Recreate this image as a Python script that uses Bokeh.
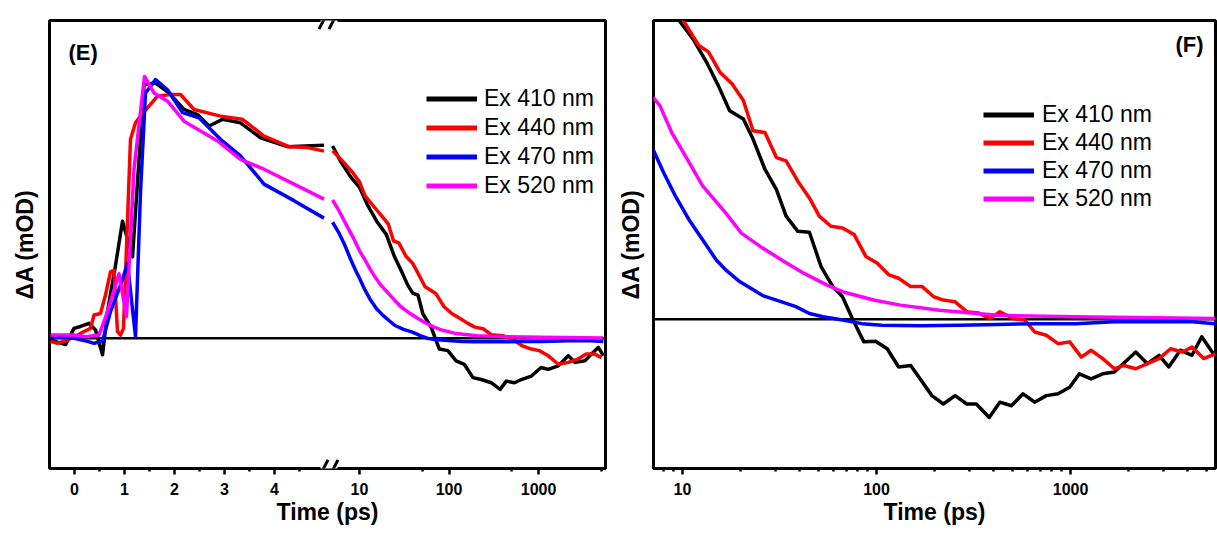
import math
from bokeh.plotting import figure
from bokeh.layouts import row
from bokeh.models import (Range1d, FixedTicker, Span, Legend, LegendItem, Label, LogScale, Arrow)
from bokeh.embed import file_html
from bokeh.resources import INLINE

# ---------------- data ----------------
SERIES = ["Ex 410 nm", "Ex 440 nm", "Ex 470 nm", "Ex 520 nm"]
COLORS = ["#000000", "#ff0000", "#0000ff", "#ff00ff"]

# Panel (E): linear segment (t <= 5 ps)
E_LIN_T_410 = [-0.48, -0.18, -0.01, 0.12, 0.29, 0.42, 0.56, 0.66, 0.82, 0.96, 1.16, 1.39, 1.62, 1.89, 2.19, 2.46, 2.69, 2.96, 3.32, 3.72, 4.26, 4.99]
E_LIN_410 = [-0.05, -0.2, 0.31, 0.37, 0.47, 0.26, -0.52, 0.84, 2.29, 3.68, 2.56, 7.98, 8.03, 7.72, 7.2, 7.04, 6.68, 6.89, 6.78, 6.31, 6.03, 6.07]
E_LIN_T_440 = [-0.48, -0.34, -0.14, 0.06, 0.19, 0.32, 0.39, 0.52, 0.62, 0.72, 0.79, 0.86, 0.92, 0.98, 1.12, 1.22, 1.32, 1.66, 1.92, 2.12, 2.39, 2.92, 3.36, 3.79, 4.29, 4.66, 4.99]
E_LIN_440 = [-0.1, -0.16, -0.05, 0.1, 0.21, 0.31, 0.73, 0.78, 1.36, 2.09, 2.14, 0.21, 0.1, 0.31, 6.26, 6.78, 6.99, 7.62, 7.67, 7.67, 7.2, 6.99, 6.89, 6.36, 6.03, 6.0, 5.89]
E_LIN_T_470 = [-0.48, -0.01, 0.26, 0.39, 0.56, 0.72, 0.92, 1.06, 1.22, 1.32, 1.42, 1.62, 1.86, 2.16, 2.49, 2.92, 3.32, 3.79, 4.39, 4.99]
E_LIN_470 = [0.05, 0.0, -0.1, -0.16, -0.1, 0.84, 1.67, 2.35, 0.05, 4.59, 7.72, 8.14, 7.82, 7.1, 6.94, 6.26, 5.74, 4.85, 4.33, 3.78]
E_LIN_T_520 = [-0.48, -0.01, 0.22, 0.49, 0.66, 0.89, 1.04, 1.19, 1.40, 1.59, 1.86, 2.19, 2.86, 3.32, 3.79, 4.39, 4.99]
E_LIN_520 = [0.1, 0.1, 0.05, 0.1, 0.84, 2.03, 0.68, 5.32, 8.24, 7.72, 7.46, 6.83, 6.21, 5.63, 5.32, 4.85, 4.38]

# Panel (E): log segment (t >= 5 ps)
E_LOG_T_410 = [5.0, 6.2, 8.0, 10, 12.4, 15.9, 19.9, 24.5, 29, 34.5, 39.5, 45, 51, 63, 78, 97, 120, 148, 185, 229, 296, 372, 436, 540, 643, 832, 1070, 1280, 1660, 2150, 2560, 3300, 3900, 4650, 5300]
E_LOG_410 = [6.05, 5.55, 5.07, 4.75, 4.17, 3.64, 3.27, 2.58, 2.15, 1.68, 1.41, 1.36, 0.77, 0.35, -0.34, -0.39, -0.71, -0.82, -1.24, -1.30, -1.40, -1.61, -1.35, -1.40, -1.30, -1.19, -0.92, -0.98, -0.87, -0.55, -0.76, -0.71, -0.5, -0.29, -0.55]
E_LOG_T_440 = [5.0, 6.6, 8.3, 10, 11.5, 14.2, 17.7, 21, 24, 27.5, 33, 39, 45, 54, 63, 71, 88, 108, 133, 164, 194, 240, 296, 400, 540, 650, 830, 1020, 1280, 1660, 2150, 2740, 3400, 4250, 5050]
E_LOG_440 = [5.9, 5.55, 5.23, 4.92, 4.49, 4.17, 3.85, 3.59, 3.06, 3.0, 2.58, 2.37, 2.05, 1.62, 1.50, 1.41, 0.99, 0.77, 0.62, 0.46, 0.35, 0.30, 0.11, 0.08, -0.07, -0.23, -0.34, -0.39, -0.55, -0.82, -0.76, -0.66, -0.50, -0.50, -0.61]
E_LOG_T_470 = [5.0, 5.8, 6.8, 8, 9, 10, 11.5, 13.3, 15.5, 18.3, 21.5, 25, 31, 39, 47, 57, 70, 97, 140, 190, 300, 450, 700, 1070, 1700, 2560, 3800, 5300]
E_LOG_470 = [3.65, 3.35, 2.95, 2.47, 2.15, 1.89, 1.52, 1.20, 0.93, 0.72, 0.55, 0.40, 0.28, 0.19, 0.09, 0.0, -0.04, -0.07, -0.1, -0.11, -0.11, -0.11, -0.1, -0.1, -0.09, -0.07, -0.08, -0.1]
E_LOG_T_520 = [5.0, 5.8, 6.6, 7.5, 8.7, 10, 11.5, 13, 14.8, 17, 21, 25, 29, 35, 45, 55, 68, 85, 115, 150, 205, 300, 450, 700, 1070, 2000, 5300]
E_LOG_520 = [4.35, 4.05, 3.75, 3.45, 3.11, 2.75, 2.47, 2.2, 1.94, 1.7, 1.41, 1.18, 0.99, 0.82, 0.62, 0.48, 0.35, 0.25, 0.16, 0.12, 0.08, 0.06, 0.05, 0.04, 0.03, 0.02, 0.01]

# Panel (F)
F_T_410 = [7.1, 9.6, 11.3, 13.3, 15.3, 17.5, 20.6, 23.1, 26.6, 30.5, 34.2, 39.3, 45.1, 51.8, 59.5, 66.8, 75, 86.1, 98.9, 113.5, 130, 150, 168, 193, 221, 254, 292, 327, 381, 432, 496, 569, 653, 750, 862, 990, 1110, 1276, 1465, 1682, 2168, 2489, 2858, 3207, 3681, 4227, 4743, 5445]
F_410 = [11.1, 10.0, 9.39, 8.61, 7.82, 6.98, 6.70, 6.03, 5.02, 4.34, 3.45, 2.94, 2.91, 1.76, 1.09, 0.75, 0.02, -0.76, -0.74, -0.99, -1.60, -1.55, -2.0, -2.56, -2.84, -2.56, -2.84, -2.84, -3.29, -2.78, -2.90, -2.50, -2.78, -2.56, -2.50, -2.28, -1.83, -2.0, -1.83, -1.77, -1.10, -1.49, -1.21, -1.60, -1.04, -1.21, -0.59, -1.16]
F_T_440 = [7.1, 10.1, 12.1, 13.6, 15.6, 18.0, 20.6, 23.1, 26.6, 30.5, 34.2, 39.3, 45.1, 50.7, 58.2, 66.8, 76.7, 88.1, 101, 116, 130, 150, 172, 197, 221, 254, 292, 335, 385, 432, 507, 582, 653, 750, 862, 990, 1137, 1276, 1465, 1682, 1888, 2168, 2489, 2858, 3281, 3767, 4227, 4853, 5572]
F_440 = [11.6, 10.0, 9.17, 8.95, 8.27, 7.88, 7.32, 6.31, 6.25, 5.41, 5.30, 4.62, 4.06, 3.45, 3.11, 3.05, 2.83, 2.10, 1.87, 1.48, 1.37, 1.09, 1.09, 0.75, 0.64, 0.58, 0.25, 0.21, 0.02, 0.25, 0.02, -0.03, -0.43, -0.54, -0.82, -0.76, -1.27, -1.04, -1.32, -1.66, -1.55, -1.66, -1.49, -1.32, -0.99, -1.10, -0.93, -1.32, -1.16]
F_T_470 = [7.05, 8.0, 9.2, 10.8, 12.7, 14.9, 16.7, 19.7, 22.6, 25.9, 30.5, 38.4, 45.1, 53, 66.8, 84, 106, 168, 266, 422, 668, 1061, 1682, 2667, 4227, 5572]
F_470 = [5.69, 4.90, 4.12, 3.33, 2.66, 1.99, 1.65, 1.26, 1.03, 0.79, 0.64, 0.42, 0.19, 0.08, -0.03, -0.15, -0.2, -0.22, -0.2, -0.18, -0.15, -0.15, -0.09, -0.09, -0.09, -0.15]
F_T_520 = [7.05, 7.65, 8.8, 10.6, 12.7, 16.7, 20.1, 25.9, 33.4, 42.1, 55.6, 66.8, 96.6, 133, 211, 422, 1061, 5572]
F_520 = [7.43, 7.15, 6.25, 5.35, 4.46, 3.56, 2.88, 2.38, 1.93, 1.54, 1.14, 0.92, 0.64, 0.47, 0.30, 0.13, 0.08, 0.02]

E_LIN_TICKS = [0, 1, 2, 3, 4]
E_LIN_MINOR = [0.5, 1.5, 2.5, 3.5, 4.5]
E_LOG_TICKS = [10, 100, 1000]
E_LOG_MINOR = [50, 500, 5000]
F_TICKS = [10, 100, 1000]
F_MINOR = [7, 8, 9, 20, 30, 40, 50, 60, 70, 80, 90, 200, 300, 400, 500, 600, 700, 800, 900, 2000, 3000, 4000, 5000]

# ---------------- styling ----------------
FONT = "Liberation Sans"
H = 533
LW = 3.5

E_XLIN = (-0.5, 10.62)      # linear scale for the short-time segment
E_XLOG = (0.003443, 5598)   # log scale for the long-time segment
E_Y = (-4.1, 10)
E_BREAK = 5.08
F_X = (7.09, 5585)
F_Y = (-5, 10)


def lin_pos(t):
    """Position on the linear x scale of (E) that the log scale maps t to."""
    a, b = math.log10(E_XLOG[0]), math.log10(E_XLOG[1])
    return E_XLIN[0] + (math.log10(t) - a) / (b - a) * (E_XLIN[1] - E_XLIN[0])


def base_style(p):
    p.outline_line_color = "black"
    p.outline_line_width = 3
    p.outline_line_alpha = 1
    p.xgrid.visible = False
    p.ygrid.visible = False
    p.background_fill_color = "white"
    p.border_fill_color = "white"


def style_x(ax, ticks, minor, overrides):
    ax.ticker = FixedTicker(ticks=ticks, minor_ticks=minor)
    ax.major_label_overrides = overrides
    ax.axis_line_color = None
    ax.major_tick_line_color = "black"
    ax.minor_tick_line_color = "black"
    ax.major_tick_line_width = 2.5
    ax.minor_tick_line_width = 2.5
    ax.major_tick_out = 6
    ax.major_tick_in = 0
    ax.minor_tick_out = 3
    ax.minor_tick_in = 0
    ax.major_label_text_font = FONT
    ax.major_label_text_font_style = "bold"
    ax.major_label_text_font_size = "16px"
    ax.major_label_text_color = "black"
    ax.major_label_standoff = 8
    ax.axis_label = "Time (ps)"
    ax.axis_label_text_font = FONT
    ax.axis_label_text_font_style = "bold"
    ax.axis_label_text_font_size = "23px"
    ax.axis_label_text_color = "black"
    ax.axis_label_standoff = 1


def style_y(ax, standoff):
    ax.ticker = FixedTicker(ticks=[])
    ax.axis_line_color = None
    ax.major_tick_out = 0
    ax.major_tick_in = 0
    ax.minor_tick_out = 0
    ax.minor_tick_in = 0
    ax.major_label_standoff = 0
    ax.axis_label = "ΔA (mOD)"
    ax.axis_label_text_font = FONT
    ax.axis_label_text_font_style = "bold"
    ax.axis_label_text_font_size = "23px"
    ax.axis_label_text_color = "black"
    ax.axis_label_standoff = standoff


def make_legend(p, loc, standoff, spacing):
    items = []
    for name, col in zip(SERIES, COLORS):
        r = p.line([float("nan")], [float("nan")], color=col, line_width=5)
        items.append(LegendItem(label=name, renderers=[r]))
    leg = Legend(items=items, location=loc, padding=0, margin=0, spacing=spacing,
                 glyph_width=51, glyph_height=27, label_height=27,
                 label_standoff=standoff, label_text_font=FONT,
                 label_text_font_size="23px", label_text_color="black",
                 label_text_baseline="middle",
                 background_fill_alpha=0, border_line_color=None)
    p.add_layout(leg)


def break_mark(p, xc, yc):
    # white gap in the frame line, then two slanted strokes
    p.add_layout(Arrow(end=None, x_start=xc - 0.16, y_start=yc, x_end=xc + 0.18, y_end=yc,
                       line_color="white", line_width=6))
    for dx in (-0.1, 0.1):
        p.add_layout(Arrow(end=None, x_start=xc + dx - 0.09, y_start=yc - 0.27,
                           x_end=xc + dx + 0.09, y_end=yc + 0.27,
                           line_color="black", line_width=3))


# ---------------- panel (E) ----------------
e = figure(width=609, height=H, x_range=Range1d(*E_XLIN), y_range=Range1d(*E_Y),
           output_backend="svg", toolbar_location=None,
           min_border_left=49, min_border_right=4, min_border_top=20, min_border_bottom=62)
e.extra_x_ranges = {"log": Range1d(*E_XLOG)}
e.extra_x_scales = {"log": LogScale()}
base_style(e)

e_major = E_LIN_TICKS + [lin_pos(t) for t in E_LOG_TICKS]
e_minor = E_LIN_MINOR + [lin_pos(t) for t in E_LOG_MINOR]
e_over = {v: str(v) for v in E_LIN_TICKS}
e_over.update({lin_pos(t): str(t) for t in E_LOG_TICKS})
style_x(e.xaxis[0], e_major, e_minor, e_over)
style_y(e.yaxis[0], 12)

e.add_layout(Span(location=0, dimension="width", line_color="black", line_width=2.5, level="underlay"))

e_lin = [(E_LIN_T_410, E_LIN_410), (E_LIN_T_440, E_LIN_440), (E_LIN_T_470, E_LIN_470), (E_LIN_T_520, E_LIN_520)]
e_log = [(E_LOG_T_410, E_LOG_410), (E_LOG_T_440, E_LOG_440), (E_LOG_T_470, E_LOG_470), (E_LOG_T_520, E_LOG_520)]
for (tl, yl), (tg, yg), col in zip(e_lin, e_log, COLORS):
    e.line(tl, yl, color=col, line_width=LW, line_join="round")
    e.line(tg, yg, color=col, line_width=LW, line_join="round", x_range_name="log")

make_legend(e, (377, 269), 7, 2)

e.add_layout(Label(x=-0.12, y=8.99, text="(E)", text_font=FONT, text_font_style="bold",
                   text_font_size="22px", text_baseline="middle", text_align="left", text_color="black"))
break_mark(e, E_BREAK, E_Y[1])
break_mark(e, E_BREAK, E_Y[0])

# ---------------- panel (F) ----------------
f = figure(width=608, height=H, x_axis_type="log", x_range=Range1d(*F_X), y_range=Range1d(*F_Y),
           output_backend="svg", toolbar_location=None,
           min_border_left=44, min_border_right=2, min_border_top=16, min_border_bottom=65)
base_style(f)
style_x(f.xaxis[0], F_TICKS, F_MINOR, {t: str(t) for t in F_TICKS})
style_y(f.yaxis[0], 10)

f.add_layout(Span(location=0, dimension="width", line_color="black", line_width=2.5, level="underlay"))

f_data = [(F_T_410, F_410), (F_T_440, F_440), (F_T_470, F_470), (F_T_520, F_520)]
for (t, y), col in zip(f_data, COLORS):
    f.line(t, y, color=col, line_width=LW, line_join="round")

make_legend(f, (330, 256), 8, 1)

f.add_layout(Label(x=3476, y=9.2, text="(F)", text_font=FONT, text_font_style="bold",
                   text_font_size="22px", text_baseline="middle", text_align="left", text_color="black"))

layout = row(e, f)
open("out.html", "w").write(file_html(layout, INLINE))
